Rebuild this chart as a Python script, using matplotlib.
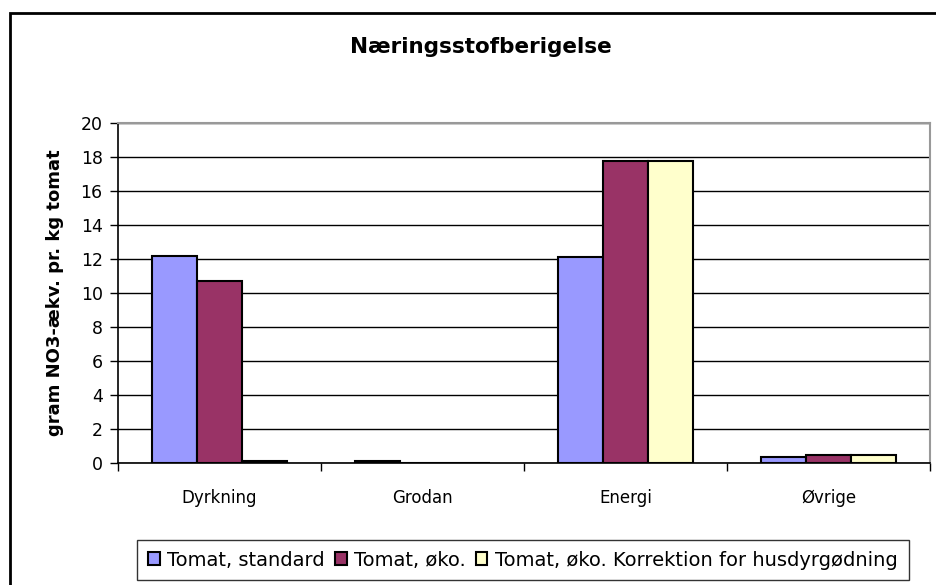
import matplotlib
matplotlib.use('Agg')
import matplotlib.pyplot as plt
import matplotlib.patches as patches
import numpy as np

plt.rcParams['font.family'] = ['DejaVu Sans']

### DATA

categories = ['Dyrkning', 'Grodan', 'Energi', 'Øvrige']
series_names = ['Tomat, standard', 'Tomat, øko.', 'Tomat, øko. Korrektion for husdyrgødning']
standard = [12.2, 0.1, 12.1, 0.33]
oeko = [10.7, 0.0, 17.75, 0.47]
oeko_korr = [0.1, 0.0, 17.75, 0.47]
colors = ['#9999FF', '#993366', '#FFFFCC']
yticks = [0, 2, 4, 6, 8, 10, 12, 14, 16, 18, 20]


fig = plt.figure(figsize=(9.37, 5.85), dpi=100)
ax = fig.add_axes([118/937, 1 - 463/585, 812/937, 340/585])

x = np.arange(len(categories))
width = 0.2222

for i, (vals, name) in enumerate(zip([standard, oeko, oeko_korr], series_names)):
    ax.bar(x + (i - 1) * width, vals, width, color=colors[i], edgecolor='black',
           linewidth=1.5, label=name, zorder=3)

ax.set_xlim(-0.5, len(categories) - 0.5)
ax.set_ylim(0, 20)
ax.set_yticks(yticks)
ax.set_yticklabels([str(t) for t in yticks], fontsize=12.5)

ax.set_xticks(x)
ax.set_xticklabels(categories, fontsize=12)
ax.set_xticks(np.arange(-0.5, len(categories)), minor=True)
ax.tick_params(axis='x', which='major', length=0, pad=19)
ax.tick_params(axis='x', which='minor', length=6, width=1, direction='out')
ax.tick_params(axis='y', length=6, width=1, direction='out', pad=5)

ax.yaxis.grid(True, color='black', linewidth=1, zorder=0)
ax.set_axisbelow(True)

ax.spines['top'].set_color('#999999')
ax.spines['right'].set_color('#999999')
ax.spines['top'].set_linewidth(1.5)
ax.spines['right'].set_linewidth(1.5)
ax.spines['left'].set_linewidth(1.2)
ax.spines['bottom'].set_linewidth(1.2)

ax.set_ylabel('gram NO3-ækv. pr. kg tomat', fontsize=13, fontweight='bold', labelpad=12)

fig.text(481/937, 1 - 47/585, 'Næringsstofberigelse',
         fontsize=15.5, fontweight='bold', ha='center', va='center')

leg = fig.legend(loc='center', bbox_to_anchor=(523/937, 1 - 560/585), ncol=3,
                 fontsize=14, frameon=True, fancybox=False, edgecolor='black',
                 handlelength=0.6, handleheight=0.6, handletextpad=0.4,
                 columnspacing=0.5, borderpad=0.55)
leg.get_frame().set_linewidth(1)
for h in leg.legend_handles:
    h.set_linewidth(1.5)

# outer chart border (cropped on right and bottom)
border = patches.Rectangle((10/937, -0.1), 1.2, 1 - 13/585 + 0.1,
                           transform=fig.transFigure, fill=False,
                           edgecolor='black', linewidth=2, clip_on=False)
fig.patches.append(border)

fig.savefig('out.png', dpi=100)
